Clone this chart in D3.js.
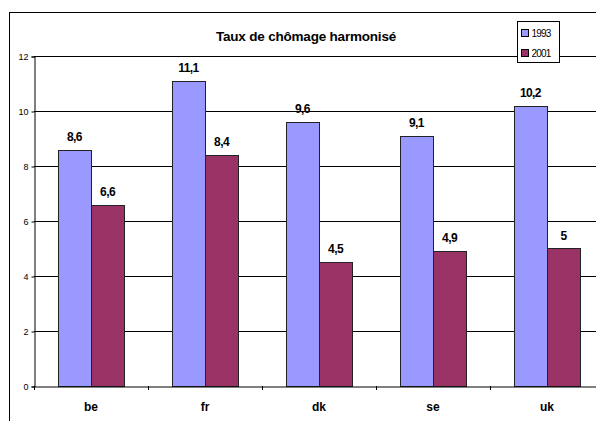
<!DOCTYPE html>
<head>
  <meta charset="utf-8">
  <script src="https://d3js.org/d3.v7.min.js"></script>
  <style>
    body { margin:0; background:#fff; }
    text { font-family: "Liberation Sans", Arial, sans-serif; }
  </style>
</head>
<body>
<script>
// data
var pays = ["be", "fr", "dk", "se", "uk"];
var annees = ["1993", "2001"];
var taux1993 = [8.6, 11.1, 9.6, 9.1, 10.2];
var taux2001 = [6.6, 8.4, 4.5, 4.9, 5];
var yTicks = [0, 2, 4, 6, 8, 10, 12];
var couleurs = ["#9999ff", "#993366"];

var width = 596, height = 421;
var plot = {left: 34, top: 56, right: 604, bottom: 386};

var svg = d3.select("body").append("svg")
    .attr("width", width)
    .attr("height", height);

// chart area border
svg.append("rect")
    .attr("x", 9.5).attr("y", 12.5)
    .attr("width", 700).attr("height", 500)
    .attr("fill", "#fff").attr("stroke", "#000");

var x = d3.scaleBand().domain(pays).range([plot.left, plot.right]);
var xs = d3.scaleBand().domain(annees).range([0, x.bandwidth()]).paddingOuter(0.72).paddingInner(0);
var y = d3.scaleLinear().domain([0, 12]).range([plot.bottom, plot.top]);

// gridlines
svg.append("g").selectAll("line").data(yTicks.slice(1)).enter().append("line")
    .attr("x1", plot.left).attr("x2", plot.right)
    .attr("y1", function(d) { return Math.round(y(d)) + 0.5; })
    .attr("y2", function(d) { return Math.round(y(d)) + 0.5; })
    .attr("stroke", "#000");

// y axis
var yAxis = svg.append("g")
    .attr("transform", "translate(" + (plot.left + 0.5) + ",0.5)")
    .call(d3.axisLeft(y).tickValues(yTicks).tickSize(3).tickPadding(3).tickFormat(d3.format("d")));
yAxis.select(".domain").attr("stroke", "#000");
yAxis.selectAll("text").attr("font-size", 9).attr("fill", "#000");

// bars
var series = [taux1993, taux2001];
var groups = svg.append("g").selectAll("g").data(pays).enter().append("g")
    .attr("transform", function(d) { return "translate(" + x(d) + ",0)"; });

groups.selectAll("rect").data(function(d, i) {
    return annees.map(function(a, j) { return {annee: a, v: series[j][i], j: j}; });
  }).enter().append("rect")
    .attr("x", function(d) { return Math.round(xs(d.annee)) + 0.5; })
    .attr("y", function(d) { return Math.round(y(d.v)) + 0.5; })
    .attr("width", Math.round(xs.bandwidth()))
    .attr("height", function(d) { return Math.round(y(0)) - Math.round(y(d.v)); })
    .attr("fill", function(d) { return couleurs[d.j]; })
    .attr("stroke", "#222");

groups.selectAll("text").data(function(d, i) {
    return annees.map(function(a, j) { return {annee: a, v: series[j][i]}; });
  }).enter().append("text")
    .attr("x", function(d) { return xs(d.annee) + xs.bandwidth() / 2; })
    .attr("y", function(d) { return y(d.v) - 9; })
    .attr("text-anchor", "middle")
    .attr("font-size", 12).attr("font-weight", "bold")
    .attr("letter-spacing", -0.6)
    .text(function(d) { return String(d.v).replace(".", ","); });

// x axis
var xAxis = svg.append("g")
    .attr("transform", "translate(0," + (plot.bottom + 0.5) + ")")
    .call(d3.axisBottom(x).tickSize(0).tickPadding(16));
xAxis.select(".domain").attr("stroke", "#000");
xAxis.selectAll("text").attr("font-size", 12).attr("font-weight", "bold").attr("fill", "#000");
svg.append("g").selectAll("line").data(pays).enter().append("line")
    .attr("x1", function(d) { return Math.round(x(d)) + 0.5; })
    .attr("x2", function(d) { return Math.round(x(d)) + 0.5; })
    .attr("y1", plot.bottom).attr("y2", plot.bottom + 4)
    .attr("stroke", "#000");

// title
svg.append("text")
    .attr("x", 306).attr("y", 41)
    .attr("text-anchor", "middle")
    .attr("font-size", 13.5).attr("font-weight", "bold")
    .attr("letter-spacing", -0.2)
    .text("Taux de chômage harmonisé");

// legend
var leg = svg.append("g").attr("transform", "translate(517.5,21.5)");
leg.append("rect").attr("width", 42).attr("height", 41)
    .attr("fill", "#fff").attr("stroke", "#000");
var item = leg.selectAll("g").data(annees).enter().append("g")
    .attr("transform", function(d, i) { return "translate(4," + (8 + i * 20) + ")"; });
item.append("rect").attr("width", 7).attr("height", 7)
    .attr("fill", function(d, i) { return couleurs[i]; })
    .attr("stroke", "#000");
item.append("text").attr("x", 10).attr("y", 7.5)
    .attr("font-size", 10).attr("letter-spacing", -0.8)
    .text(function(d) { return d; });
</script>
</body>
